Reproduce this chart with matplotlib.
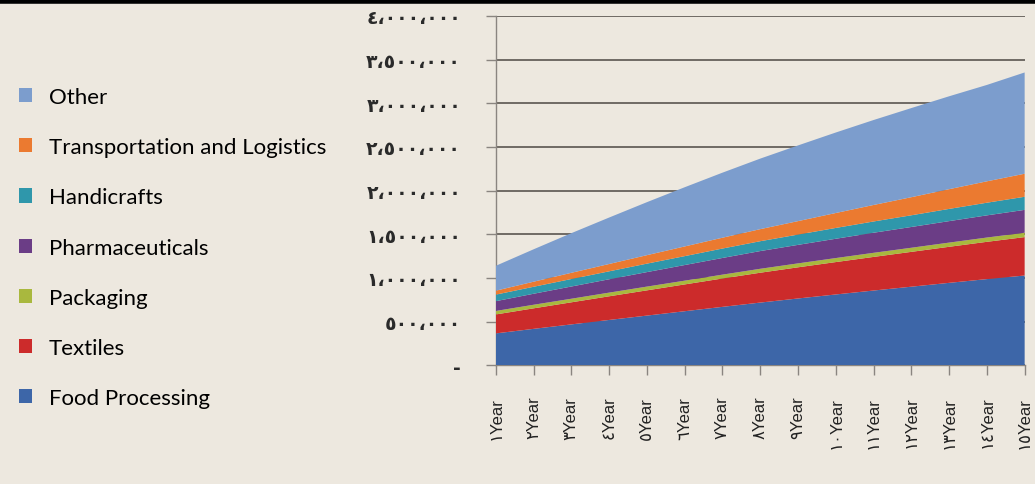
#!/usr/bin/env python3
"""Stacked area chart: projected sector values over 15 years."""

import matplotlib
matplotlib.use("Agg")
import matplotlib.pyplot as plt
from matplotlib.lines import Line2D
from matplotlib.patches import Patch

years = ["١Year", "٢Year", "٣Year", "٤Year", "٥Year", "٦Year", "٧Year", "٨Year",
         "٩Year", "١٠Year", "١١Year", "١٢Year", "١٣Year", "١٤Year", "١٥Year"]

# values in millions, bottom layer first
food = [0.364, 0.416, 0.467, 0.518, 0.568, 0.618, 0.668, 0.717, 0.764, 0.810, 0.855, 0.899, 0.943, 0.986, 1.027]
textiles = [0.217, 0.235, 0.253, 0.271, 0.289, 0.307, 0.325, 0.342, 0.357, 0.371, 0.385, 0.399, 0.413, 0.427, 0.440]
packaging = [0.040, 0.041, 0.041, 0.042, 0.043, 0.043, 0.044, 0.045, 0.045, 0.046, 0.047, 0.047, 0.048, 0.049, 0.050]
pharma = [0.112, 0.126, 0.140, 0.153, 0.166, 0.179, 0.191, 0.203, 0.212, 0.221, 0.230, 0.238, 0.246, 0.254, 0.262]
handicrafts = [0.075, 0.080, 0.086, 0.091, 0.097, 0.102, 0.108, 0.113, 0.118, 0.124, 0.129, 0.134, 0.140, 0.145, 0.150]
transport = [0.045, 0.058, 0.071, 0.084, 0.097, 0.111, 0.124, 0.138, 0.154, 0.171, 0.189, 0.207, 0.226, 0.245, 0.264]
other = [0.285, 0.371, 0.454, 0.532, 0.607, 0.678, 0.745, 0.808, 0.867, 0.922, 0.973, 1.021, 1.064, 1.104, 1.160]

series_names = ["Food Processing", "Textiles", "Packaging", "Pharmaceuticals",
                "Handicrafts", "Transportation and Logistics", "Other"]
colors = ["#3d66a8", "#cc2b2b", "#a9b83e", "#6b3d86", "#2f97ab", "#eb7a30", "#7c9dcd"]

ytick_vals = [0, 500000, 1000000, 1500000, 2000000, 2500000, 3000000, 3500000, 4000000]
ytick_labels = ["-", "٥٠٠،٠٠٠", "١،٠٠٠،٠٠٠", "١،٥٠٠،٠٠٠", "٢،٠٠٠،٠٠٠",
                "٢،٥٠٠،٠٠٠", "٣،٠٠٠،٠٠٠", "٣،٥٠٠،٠٠٠", "٤،٠٠٠،٠٠٠"]

bg = "#ede8df"


def main() -> None:
    fig = plt.figure(figsize=(10.35, 4.85), dpi=100, facecolor=bg)
    ax = fig.add_axes([0.479, 0.245, 0.511, 0.720])
    ax.set_facecolor(bg)

    x = list(range(len(years)))
    data = [food, textiles, packaging, pharma, handicrafts, transport, other]
    data = [[v * 1e6 for v in s] for s in data]
    ax.stackplot(x, *data, colors=colors, labels=series_names, zorder=3,
                 edgecolor="none")

    ax.set_xlim(0, len(years) - 1)
    ax.set_ylim(0, 4000000)
    ax.set_yticks(ytick_vals)
    ax.set_yticklabels(ytick_labels, family=["DejaVu Sans"], fontsize=13.5,
                       color="#2a2a2a", fontweight="bold")
    ax.set_xticks(x)
    ax.set_xticklabels(years, rotation=90, family=["Liberation Sans", "DejaVu Sans"],
                       fontsize=12, color="#222222", va="top", ha="center")

    ax.yaxis.grid(True, color="#5a5550", lw=1.2, zorder=1)
    ax.set_axisbelow(True)
    for side in ("top", "right"):
        ax.spines[side].set_visible(False)
    for side in ("left", "bottom"):
        ax.spines[side].set_color("#8a8580")
        ax.spines[side].set_linewidth(1.0)
    ax.tick_params(axis="y", direction="out", length=7, width=1, color="#8a8580", pad=18)
    ax.tick_params(axis="x", direction="out", length=7, width=1, color="#8a8580", pad=15)

    handles = [Patch(facecolor=c, edgecolor="none") for c in colors][::-1]
    fig.legend(handles, series_names[::-1], loc="upper left", bbox_to_anchor=(-0.001, 0.86),
               frameon=False, prop={"family": "Lato", "size": 16}, labelspacing=1.36,
               handlelength=0.6, handleheight=0.6, handletextpad=0.75)

    # dark border at the top edge of the photographed page
    fig.add_artist(Line2D([0, 1], [0.996, 0.996], color="black", lw=4,
                          transform=fig.transFigure))

    fig.savefig("out.png", dpi=100, facecolor=bg)
    plt.close(fig)


if __name__ == "__main__":
    main()
